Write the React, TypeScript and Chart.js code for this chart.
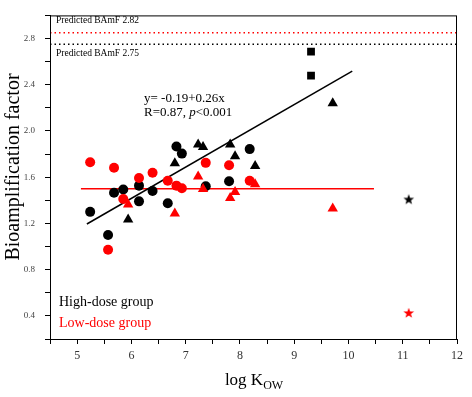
import React, { useEffect, useRef } from 'react';
import { Chart, registerables } from 'chart.js';

Chart.register(...registerables);

// ---- data ----
const circleXHigh = [5.24, 5.57, 5.68, 5.85, 6.14, 6.14, 6.39, 6.67, 6.83, 6.93, 7.37, 7.80, 8.18];
const circleYHigh = [1.30, 1.10, 1.465, 1.493, 1.527, 1.391, 1.48, 1.374, 1.866, 1.804, 1.522, 1.565, 1.843];
const circleXLow = [5.24, 5.57, 5.68, 5.85, 6.14, 6.39, 6.67, 6.83, 6.93, 7.37, 7.80, 8.18];
const circleYLow = [1.73, 0.973, 1.681, 1.411, 1.593, 1.638, 1.57, 1.527, 1.505, 1.724, 1.704, 1.57];
const triangleX = [5.94, 6.80, 7.23, 7.32, 7.82, 7.91, 8.28, 9.71];
const triangleYHigh = [1.235, 1.72, 1.884, 1.862, 1.882, 1.782, 1.697, 2.24];
const triangleYLow = [1.364, 1.285, 1.606, 1.498, 1.419, 1.472, 1.54, 1.33];
const squareX = [9.31, 9.31];
const squareYHigh = [2.687, 2.478];
const starX = [11.11];
const starYHigh = [1.408];
const starYLow = [0.425];
const regressionX = [5.18, 10.07];
const regressionY = [1.195, 2.517];
const lowMeanX = [5.07, 10.47];
const lowMeanY = [1.5, 1.5];
const predictedX = [4.5, 12];
const predictedLow = 2.85;
const predictedHigh = 2.75;
const xTickLabels = [5, 6, 7, 8, 9, 10, 11, 12];
const yTickLabels = [0.4, 0.8, 1.2, 1.6, 2.0, 2.4, 2.8];

const RED = '#ff0000';
const BLACK = '#000000';
const SERIF = '"Liberation Serif", "Times New Roman", serif';

const pts = (xs: number[], ys: number[]) => xs.map((x, i) => ({ x, y: ys[i] }));

function makeStar(color: string): HTMLCanvasElement {
  const c = document.createElement('canvas');
  c.width = 12;
  c.height = 12;
  const ctx = c.getContext('2d')!;
  ctx.fillStyle = color;
  ctx.beginPath();
  const cx = 6, cy = 6.3, R = 5.6, r = 2.3;
  for (let i = 0; i < 10; i++) {
    const rad = i % 2 === 0 ? R : r;
    const a = -Math.PI / 2 + (i * Math.PI) / 5;
    const px = cx + rad * Math.cos(a);
    const py = cy + rad * Math.sin(a);
    if (i === 0) ctx.moveTo(px, py);
    else ctx.lineTo(px, py);
  }
  ctx.closePath();
  ctx.fill();
  return c;
}

const annotationPlugin = {
  id: 'annots',
  afterDraw(chart: any) {
    const ctx = chart.ctx as CanvasRenderingContext2D;
    const a = chart.chartArea;
    ctx.save();
    // frame
    ctx.strokeStyle = '#000';
    ctx.lineWidth = 1;
    ctx.strokeRect(a.left + 0.5, a.top + 0.5, a.right - a.left - 1, a.bottom - a.top);
    ctx.textBaseline = 'middle';
    ctx.textAlign = 'left';
    // predicted labels
    ctx.fillStyle = '#000';
    ctx.font = `9.5px ${SERIF}`;
    ctx.fillText('Predicted BAmF 2.82', a.left + 6, 20);
    ctx.fillText('Predicted BAmF 2.75', a.left + 6, 53);
    // equation
    ctx.font = `13px ${SERIF}`;
    ctx.fillText('y= -0.19+0.26x', 144, 99);
    let x = 144;
    const s1 = 'R=0.87, ';
    ctx.fillText(s1, x, 113);
    x += ctx.measureText(s1).width;
    ctx.font = `italic 13px ${SERIF}`;
    ctx.fillText('p', x, 113);
    x += ctx.measureText('p').width;
    ctx.font = `13px ${SERIF}`;
    ctx.fillText('<0.001', x, 113);
    // group legend
    ctx.font = `14px ${SERIF}`;
    ctx.fillStyle = BLACK;
    ctx.fillText('High-dose group', 59, 302);
    ctx.fillStyle = RED;
    ctx.fillText('Low-dose group', 59, 323);
    // x title
    ctx.fillStyle = '#000';
    ctx.textBaseline = 'alphabetic';
    ctx.font = `17px ${SERIF}`;
    const main = 'log K';
    const wMain = ctx.measureText(main).width;
    ctx.font = `12px ${SERIF}`;
    const wSub = ctx.measureText('OW').width;
    const startX = 254 - (wMain + wSub) / 2;
    ctx.font = `17px ${SERIF}`;
    ctx.fillText(main, startX, 385);
    ctx.font = `12px ${SERIF}`;
    ctx.fillText('OW', startX + wMain, 389);
    // y title
    ctx.translate(14, 167);
    ctx.rotate(-Math.PI / 2);
    ctx.textAlign = 'center';
    ctx.textBaseline = 'middle';
    ctx.font = `20px ${SERIF}`;
    ctx.fillText('Bioamplification factor', 0, 0);
    ctx.restore();
  },
};

export default function App() {
  const ref = useRef<HTMLCanvasElement | null>(null);

  useEffect(() => {
    if (!ref.current) return;
    const starBlack = makeStar(BLACK);
    const starRed = makeStar(RED);
    const lineDs = (data: any, color: string, width: number, dash: number[] = []) => ({
      type: 'scatter' as const,
      data,
      showLine: true,
      borderColor: color,
      borderWidth: width,
      borderDash: dash,
      pointRadius: 0,
      fill: false,
      order: 5,
    });
    const chart = new Chart(ref.current, {
      type: 'scatter',
      data: {
        datasets: [
          { data: pts(circleXLow, circleYLow), pointStyle: 'circle', pointRadius: 5, backgroundColor: RED, borderColor: RED, borderWidth: 0, order: 1 },
          { data: pts(triangleX, triangleYLow), pointStyle: 'triangle', pointRadius: 6, backgroundColor: RED, borderColor: RED, borderWidth: 0, order: 1 },
          { data: pts(starX, starYLow), pointStyle: starRed, pointRadius: 6, backgroundColor: RED, borderColor: RED, order: 1 },
          { data: pts(circleXHigh, circleYHigh), pointStyle: 'circle', pointRadius: 5, backgroundColor: BLACK, borderColor: BLACK, borderWidth: 0, order: 2 },
          { data: pts(triangleX, triangleYHigh), pointStyle: 'triangle', pointRadius: 6, backgroundColor: BLACK, borderColor: BLACK, borderWidth: 0, order: 2 },
          { data: pts(squareX, squareYHigh), pointStyle: 'rect', pointRadius: 5.5, backgroundColor: BLACK, borderColor: BLACK, borderWidth: 0, order: 2 },
          { data: pts(starX, starYHigh), pointStyle: starBlack, pointRadius: 6, backgroundColor: BLACK, borderColor: BLACK, order: 2 },
          lineDs(pts(regressionX, regressionY), BLACK, 1.5),
          lineDs(pts(lowMeanX, lowMeanY), RED, 1.5),
          lineDs(pts(predictedX, [predictedLow, predictedLow]), RED, 1.5, [1.5, 3]),
          lineDs(pts(predictedX, [predictedHigh, predictedHigh]), BLACK, 1.5, [1.5, 3]),
        ] as any,
      },
      options: {
        animation: false,
        responsive: true,
        maintainAspectRatio: false,
        layout: { padding: { top: 11, right: 15, left: 0, bottom: 0 } },
        plugins: { legend: { display: false }, tooltip: { enabled: false } },
        scales: {
          x: {
            type: 'linear',
            min: 4.5,
            max: 12,
            afterFit: (s: any) => { s.height = 58; },
            grid: { drawOnChartArea: false, drawTicks: true, tickLength: 5, color: '#000' },
            border: { color: '#000', width: 1 },
            ticks: {
              stepSize: 0.5,
              autoSkip: false,
              maxRotation: 0,
              padding: 5,
              color: '#333',
              font: { family: SERIF, size: 12 },
              callback: (v: any) => (xTickLabels.some((t) => Math.abs(t - Number(v)) < 1e-6) ? String(Math.round(Number(v))) : ''),
            },
          },
          y: {
            type: 'linear',
            min: 0.2,
            max: 3.0,
            afterFit: (s: any) => { s.width = 50; },
            grid: { drawOnChartArea: false, drawTicks: true, tickLength: 5, color: '#000' },
            border: { color: '#000', width: 1 },
            ticks: {
              stepSize: 0.2,
              autoSkip: false,
              padding: 10,
              color: '#444',
              font: { family: SERIF, size: 9 },
              callback: (v: any) => (yTickLabels.some((t) => Math.abs(t - Number(v)) < 1e-6) ? Number(v).toFixed(1) : ''),
            },
          },
        },
      } as any,
      plugins: [annotationPlugin],
    });
    return () => chart.destroy();
  }, []);

  return (
    <div style={{ position: 'fixed', left: 0, top: 0, width: 472, height: 397, background: '#fff' }}>
      <canvas ref={ref} />
    </div>
  );
}
